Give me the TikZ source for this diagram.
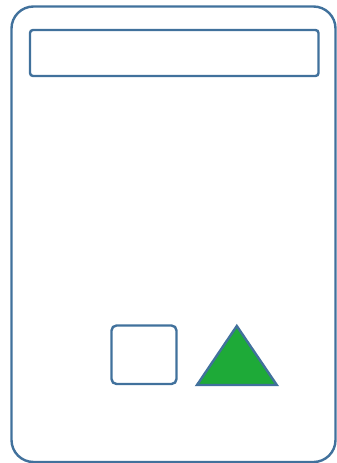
\documentclass[tikz,border=0pt]{standalone}
\definecolor{triGreen}{RGB}{30,170,56}
\definecolor{borderBlue}{RGB}{65,113,156}
\begin{document}
\begin{tikzpicture}[x=1pt,y=-1pt,
  bordercol/.style={draw=borderBlue, line width=2.4pt},
]
\useasboundingbox (0,0) rectangle (337,463);
\coordinate (outertl) at (11.5,6.5);
\coordinate (outerbr) at (335.5,462);
\draw[bordercol, rounded corners=22pt] (outertl) rectangle (outerbr);
\coordinate (titletl) at (30,30);
\coordinate (titlebr) at (318.5,76);
\draw[bordercol, rounded corners=3pt] (titletl) rectangle (titlebr);
\coordinate (sqtl) at (111.5,325.5);
\coordinate (sqbr) at (176.5,384);
\draw[bordercol, rounded corners=5pt] (sqtl) rectangle (sqbr);
\coordinate (apex) at (236.8,326);
\coordinate (bl) at (197,385);
\coordinate (br) at (276.8,385);
\draw[bordercol, fill=triGreen, line join=miter] (apex) -- (br) -- (bl) -- cycle;
\end{tikzpicture}
\end{document}
